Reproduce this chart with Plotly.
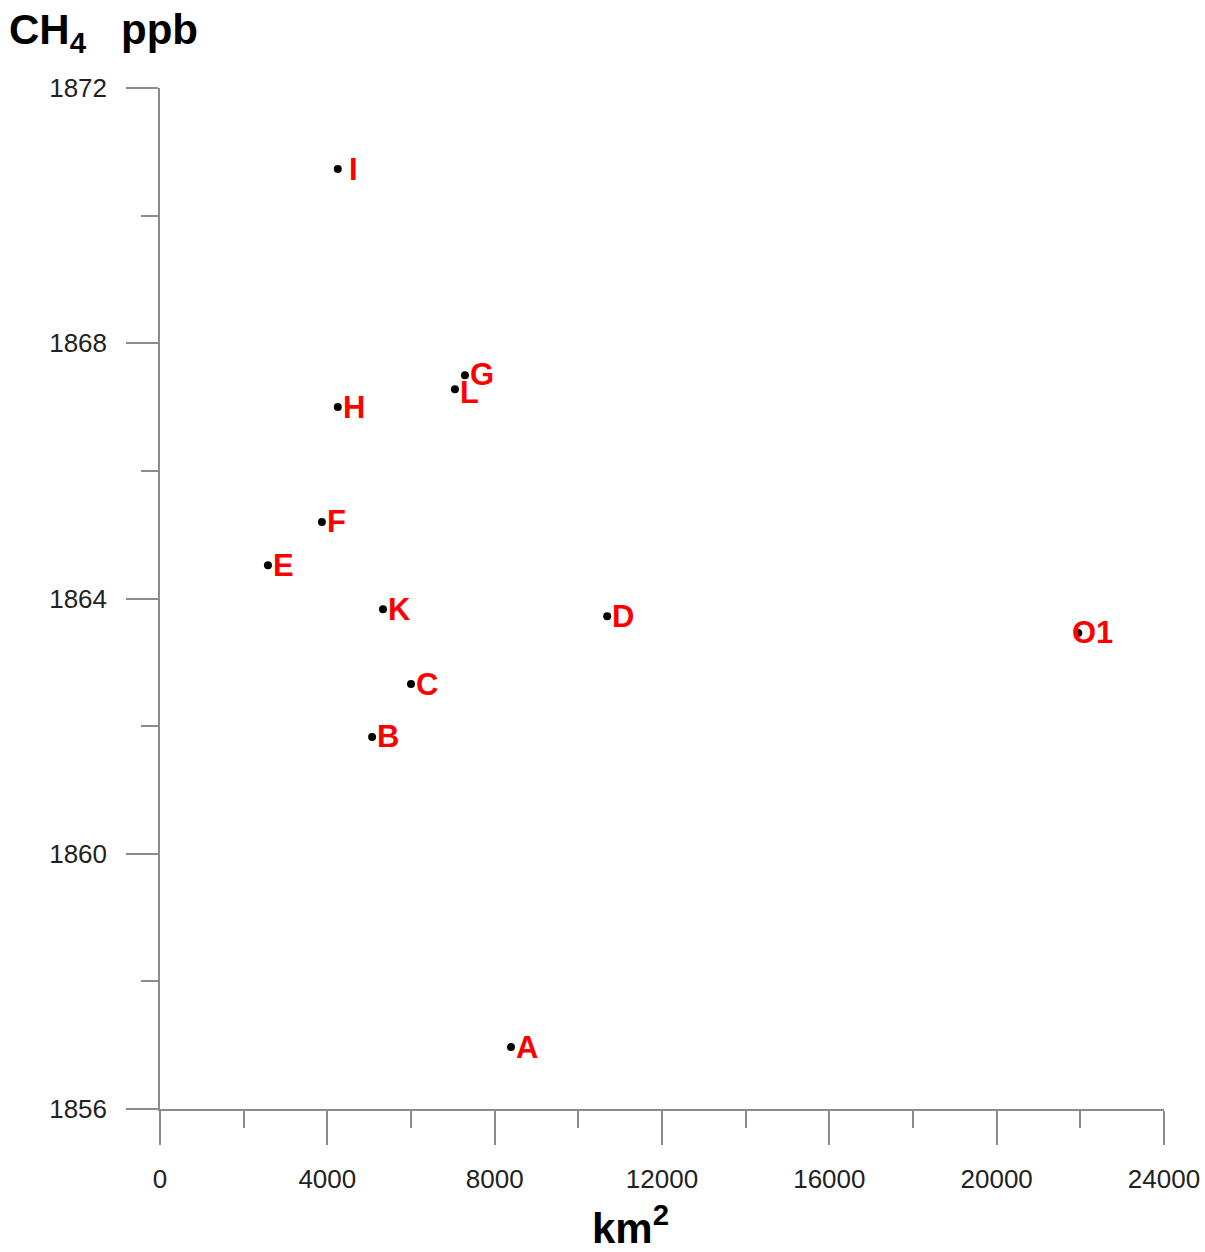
import plotly.graph_objects as go

labels = ["I", "G", "L", "H", "F", "E", "K", "D", "O1", "C", "B", "A"]
area_km2 = [4250, 7290, 7050, 4250, 3870, 2580, 5330, 10690, 21950, 6000, 5070, 8390]
ch4_ppb = [1870.73, 1867.50, 1867.28, 1867.00, 1865.20, 1864.52, 1863.83, 1863.72, 1863.46, 1862.66, 1861.83, 1856.97]

x_ticks = [0, 4000, 8000, 12000, 16000, 20000, 24000]
y_ticks = [1856, 1860, 1864, 1868, 1872]

# label offsets in pixels (style only)
label_shift = {"I": (9, 0), "G": (3, 1), "L": (3, -3), "O1": (-8, 0)}

fig = go.Figure()
fig.add_trace(go.Scatter(
    x=area_km2, y=ch4_ppb, mode="markers",
    marker=dict(color="black", size=8),
    hoverinfo="text", text=labels, showlegend=False,
))

for lab, xv, yv in zip(labels, area_km2, ch4_ppb):
    dx, dy = label_shift.get(lab, (3, 0))
    fig.add_annotation(
        x=xv, y=yv, text="<b>" + lab + "</b>", showarrow=False,
        xanchor="left", yanchor="middle", xshift=dx, yshift=dy,
        font=dict(family="Liberation Sans, Arial", size=31, color="#ff0000"),
    )

axis_common = dict(
    showline=True, linecolor="#8c8c8c", linewidth=1.5,
    ticks="outside", tickcolor="#8c8c8c", tickwidth=1.5,
    showgrid=False, zeroline=False, automargin=False,
    tickfont=dict(family="Liberation Sans, Arial", size=26, color="#222222"),
)

fig.update_xaxes(
    range=[0, 24000], tickvals=x_ticks, ticktext=[str(v) for v in x_ticks],
    ticklen=34, ticklabelstandoff=12,
    minor=dict(dtick=2000, ticks="outside", ticklen=17, tickcolor="#8c8c8c", tickwidth=1.5),
    **axis_common,
)
fig.update_yaxes(
    range=[1856, 1872], tickvals=y_ticks, ticktext=[str(v) for v in y_ticks],
    ticklen=32, ticklabelstandoff=14,
    minor=dict(dtick=2, tick0=1856, ticks="outside", ticklen=17, tickcolor="#8c8c8c", tickwidth=1.5),
    **axis_common,
)

fig.add_annotation(
    xref="paper", yref="paper", x=0.469, y=-0.142, xanchor="center", yanchor="bottom",
    text="<b>km<sup>2</sup></b>", showarrow=False,
    font=dict(family="Liberation Sans, Arial", size=42, color="black"),
)
fig.add_annotation(
    xref="paper", yref="paper", x=-0.152, y=1.026, xanchor="left", yanchor="bottom",
    text="<b>CH<sub>4</sub>&nbsp;&nbsp;&nbsp;ppb</b>", showarrow=False,
    font=dict(family="Liberation Sans, Arial", size=42, color="black"),
)

fig.update_layout(
    width=1205, height=1252,
    margin=dict(l=160, r=41, t=88, b=143),
    plot_bgcolor="white", paper_bgcolor="white",
)

fig.write_html("out.html")
